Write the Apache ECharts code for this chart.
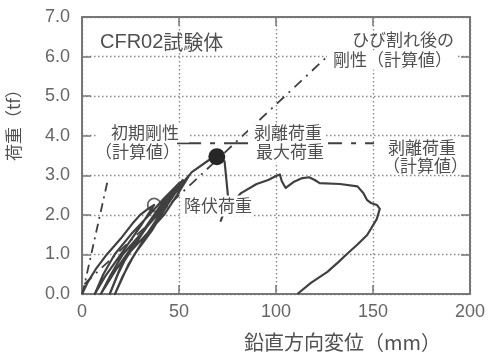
<!DOCTYPE html>
<html><head><meta charset="utf-8">
<script src="https://cdn.jsdelivr.net/npm/echarts@6/dist/echarts.min.js"></script>
<style>html,body{margin:0;padding:0;background:#fff}#c{width:488px;height:355px}</style>
</head><body><div id="c"></div>
<script>
// ---- data (mm, tf) ----
const xTickValues = [0, 50, 100, 150, 200];
const yTickLabels = ['0.0','1.0','2.0','3.0','4.0','5.0','6.0','7.0'];

// cyclic loading up to the peel / max load, then post-peak branch
const loadCurve = [
  [0,0],[3,0.3],[7,0.62],[12.8,1.0],[20,1.4],[26,1.78],[30,2.0],[34,2.15],[37.2,2.25],
  [30,1.7],[20,1.0],[12,0.45],[6.6,0],
  [11,0.5],[16.8,1.0],[26,1.55],[34.7,2.0],[42,2.4],[50,2.8],
  [40,2.2],[28,1.35],[18,0.65],[9.7,0],
  [15,0.5],[21,1.0],[30,1.5],[38.8,2.0],[45,2.45],[52,2.88],
  [42,2.3],[30,1.45],[20,0.7],[14.3,0],
  [18.5,0.5],[23.5,1.0],[33,1.5],[42.3,2.0],[49,2.5],[55,2.98],
  [44,2.3],[34,1.55],[24,0.75],[17,0],
  [21,0.45],[27,1.0],[36,1.6],[44,2.25],[50,2.7],[56.6,3.08],[65.3,3.38],[69.5,3.47],
  [73.5,3.35],[75.5,2.35],[71.5,1.85],[73.5,2.1],[82,2.55],
  [90,2.78],[96,2.88],[100,2.98],[102,3.02],[103,2.85],[105,2.68],[109,2.83],[113,2.92],
  [117,2.95],[120,2.88],[122.5,2.8],[133,2.78],[142,2.72],[145,2.55],[147,2.37],[149,2.3],
  [152,2.25],[153.5,2.15],[152,1.9],[147,1.49],[142,1.25],[137,1.03],[132,0.8],
  [126.5,0.56],[118,0.28],[111,0]
];
const initialStiffness = [[0.2,0],[13.3,2.88]];
const crackedStiffness = [[1.2,0.25],[125.5,5.96]];
const peelLoadCalc = [[49,3.81],[150.5,3.81]];
const yieldPoint = [[37.2,2.25]];
const peakPoint = [[69.5,3.47]];

const LATIN = "'Liberation Sans', Arial, 'Noto Sans CJK JP', sans-serif";
const CJK = "'Noto Sans CJK JP', sans-serif";
const TXT = '#505050';
const LINE = '#404040';
const AX = '#777';

function lbl(text, x, y, opt) {
  opt = opt || {};
  return {
    type: 'text', x: x, y: y, z: 100, rotation: opt.rotation || 0,
    style: {
      text: text, fontSize: opt.size || 17, fontFamily: CJK, fill: TXT,
      align: opt.align || 'left', verticalAlign: 'middle',
      backgroundColor: opt.bg ? '#fff' : null, padding: opt.pad || 0
    }
  };
}

const chart = echarts.init(document.getElementById('c'), null, {renderer: 'canvas'});
const dotted = {color: '#8a8a8a', width: 1.4, type: [1.5, 2.5]};
const axLine = {show: true, onZero: false, lineStyle: {color: AX, width: 2}};
chart.setOption({
  animation: false,
  backgroundColor: '#fff',
  grid: {left: 82, right: 14, top: 17, bottom: 61},
  xAxis: [{
    type: 'value', min: 0, max: 200, interval: 50, position: 'bottom',
    axisLine: axLine,
    axisTick: {show: true, inside: true, length: 9, lineStyle: {color: AX, width: 1.5}},
    axisLabel: {color: '#666', fontSize: 18, fontFamily: LATIN, margin: 9,
      customValues: xTickValues, formatter: v => String(v)},
    splitLine: {show: true, lineStyle: dotted}
  }, {
    type: 'value', min: 0, max: 200, interval: 50, position: 'top',
    axisLine: axLine,
    axisTick: {show: true, inside: true, length: 9, lineStyle: {color: AX, width: 1.5}},
    axisLabel: {show: false}, splitLine: {show: false}
  }],
  yAxis: [{
    type: 'value', min: 0, max: 7, interval: 1, position: 'left',
    axisLine: axLine,
    axisTick: {show: true, inside: true, length: 9, lineStyle: {color: AX, width: 1.5}},
    axisLabel: {color: '#666', fontSize: 18, fontFamily: LATIN, margin: 12,
      formatter: v => yTickLabels[Math.round(v)]},
    splitLine: {show: true, lineStyle: dotted}
  }, {
    type: 'value', min: 0, max: 7, interval: 1, position: 'right',
    axisLine: axLine,
    axisTick: {show: true, inside: true, length: 9, lineStyle: {color: AX, width: 1.5}},
    axisLabel: {show: false}, splitLine: {show: false}
  }],
  series: [
    {type: 'line', data: initialStiffness, showSymbol: false, silent: true,
      lineStyle: {color: LINE, width: 1.8, type: [9, 5, 2, 5]}},
    {type: 'line', data: crackedStiffness, showSymbol: false, silent: true,
      lineStyle: {color: LINE, width: 1.8, type: [10, 6, 2, 6]}},
    {type: 'line', data: peelLoadCalc, showSymbol: false, silent: true,
      lineStyle: {color: LINE, width: 1.8, type: [24, 9, 5, 9]}},
    {type: 'line', data: loadCurve, showSymbol: false, silent: true,
      lineStyle: {color: LINE, width: 2.2, join: 'round'}},
    {type: 'scatter', data: yieldPoint, symbol: 'circle', symbolSize: 13, silent: true, z: 10,
      itemStyle: {color: 'rgba(255,255,255,0)', borderColor: LINE, borderWidth: 1.8}},
    {type: 'scatter', data: peakPoint, symbol: 'circle', symbolSize: 17, silent: true, z: 10,
      itemStyle: {color: '#262626', opacity: 1}}
  ],
  graphic: [
    {type: 'text', x: 100, y: 42, z: 100,
      style: {text: '{a|CFR02}{b|試験体}', verticalAlign: 'middle',
        rich: {a: {fontSize: 20, fontFamily: LATIN, fill: TXT},
               b: {fontSize: 20, fontFamily: CJK, fill: TXT}}}},
    lbl('初期剛性', 97, 133, {bg: true, pad: [1, 10, 1, 14]}),
    lbl('（計算値）', 95, 152),
    lbl('剥離荷重', 248, 133, {bg: true, pad: [1, 4, 1, 6]}),
    lbl('最大荷重', 248, 152, {bg: true, pad: [3, 4, 1, 8]}),
    lbl('ひび割れ後の', 454, 40, {align: 'right'}),
    lbl('剛性（計算値）', 458, 60, {align: 'right', bg: true, pad: [1, 6, 1, 6]}),
    lbl('剥離荷重', 388, 148),
    lbl('（計算値）', 383, 166),
    lbl('降伏荷重', 182, 206, {bg: true, pad: [2, 2, 2, 2]}),
    lbl('鉛直方向変位（mm）', 244, 342, {size: 20}),
    lbl('荷重（tf）', 14, 121, {align: 'center', rotation: Math.PI / 2})
  ]
});
</script></body></html>
